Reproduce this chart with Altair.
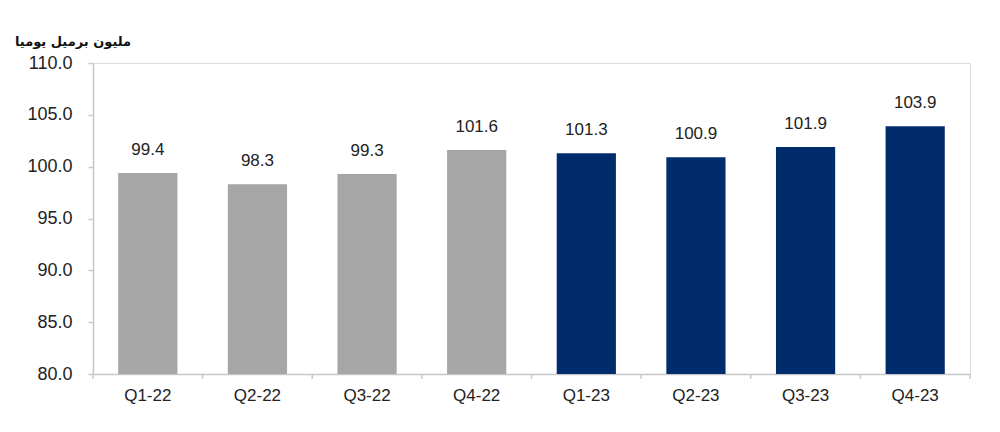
import altair as alt
import pandas as pd

quarters = ["Q1-22", "Q2-22", "Q3-22", "Q4-22", "Q1-23", "Q2-23", "Q3-23", "Q4-23"]
values = [99.4, 98.3, 99.3, 101.6, 101.3, 100.9, 101.9, 103.9]
years = ["2022", "2022", "2022", "2022", "2023", "2023", "2023", "2023"]
y_ticks = [80, 85, 90, 95, 100, 105, 110]
title_text = "مليون برميل يوميا"

df = pd.DataFrame({"q": quarters, "v": values, "yr": years})

W, H = 877, 311
half_step = W / len(quarters) / 2

xscale = alt.Scale(domain=quarters, paddingInner=0.46, paddingOuter=0.23)
yscale = alt.Scale(domain=[80, 110], nice=False, zero=False)

base = alt.Chart(df)

bars = base.mark_bar().encode(
    x=alt.X("q:N", sort=quarters, scale=xscale, title=None,
            axis=alt.Axis(labelAngle=0, ticks=False, domainColor="#c8c8c8", domainWidth=1.5,
                          labelFont="Liberation Sans", labelFontSize=17, labelColor="#222222",
                          labelPadding=13)),
    y=alt.Y("v:Q", scale=yscale, title=None,
            axis=alt.Axis(values=y_ticks, format=".1f", grid=False, domainColor="#c8c8c8",
                          domainWidth=1.5, tickColor="#c8c8c8", tickSize=5, tickWidth=1.5,
                          labelFont="Liberation Sans", labelFontSize=18, labelColor="#222222",
                          labelPadding=16)),
    y2=alt.datum(80),
    color=alt.Color("yr:N", scale=alt.Scale(domain=["2022", "2023"], range=["#a6a6a6", "#002c6c"]),
                    legend=None),
)

labels = base.mark_text(baseline="bottom", dy=-14, font="Liberation Sans", fontSize=17,
                        color="#222222").encode(
    x=alt.X("q:N", sort=quarters, scale=xscale),
    y=alt.Y("v:Q", scale=yscale),
    text=alt.Text("v:Q", format=".1f"),
)

ticks_left = base.mark_rule(color="#c8c8c8", strokeWidth=1.5, xOffset=-half_step).encode(
    x=alt.X("q:N", sort=quarters, scale=xscale),
    y=alt.value(H),
    y2=alt.value(H + 5),
)

ticks_right = alt.Chart(df[df.q == quarters[-1]]).mark_rule(
    color="#c8c8c8", strokeWidth=1.5, xOffset=half_step).encode(
    x=alt.X("q:N", sort=quarters, scale=xscale),
    y=alt.value(H),
    y2=alt.value(H + 5),
)

chart = alt.layer(bars, labels, ticks_left, ticks_right).properties(
    width=W, height=H,
    title=alt.TitleParams(title_text, anchor="start", dx=-12, offset=5, font="DejaVu Sans",
                          fontSize=13, fontWeight="bold", color="#111111"),
    autosize=alt.AutoSizeParams(type="none"),
    padding={"left": 93, "top": 63, "right": 30, "bottom": 58},
).configure_view(stroke=None).configure(background="white")

chart.save("out.html", embed_options={"renderer": "svg", "actions": False})
